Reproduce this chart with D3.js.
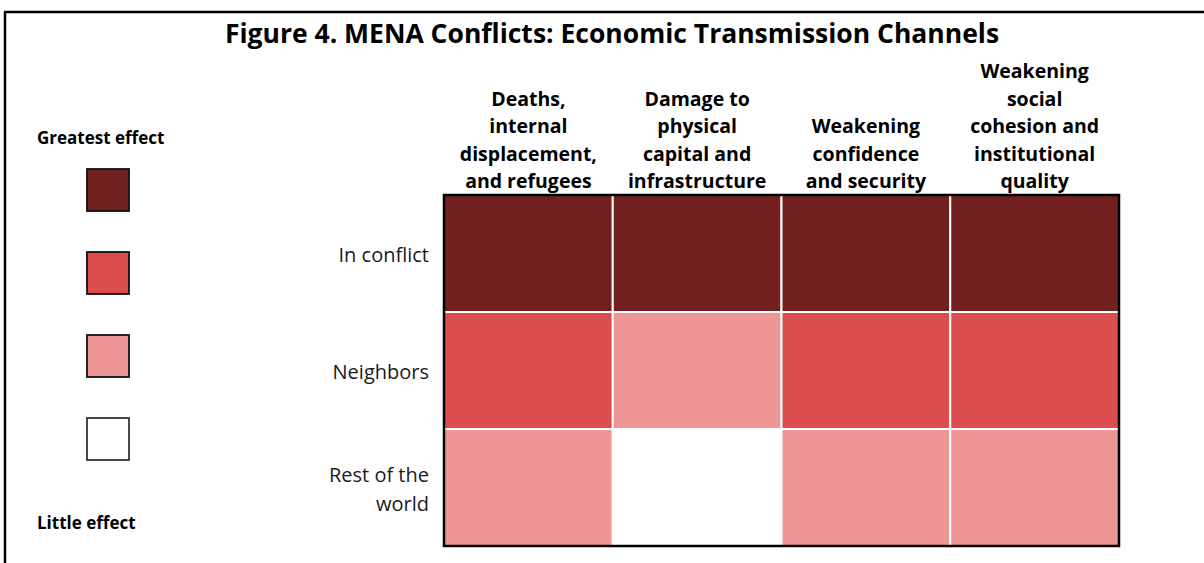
<!DOCTYPE html>
<html>
<head>
<meta charset="utf-8">
<script src="https://cdn.jsdelivr.net/npm/d3@7"></script>
<style>
  body { margin: 0; background: #fff; }
  svg { display: block; font-family: "Open Sans", "Noto Sans", sans-serif; }
</style>
</head>
<body>
<svg id="chart" width="1204" height="563"></svg>
<script>
// channels along the top, groups down the side
const channels = [
    ["Deaths,", "internal", "displacement,", "and refugees"],
    ["Damage to", "physical", "capital and", "infrastructure"],
    ["Weakening", "confidence", "and security"],
    ["Weakening", "social", "cohesion and", "institutional", "quality"]
];
const groups = [["In conflict"], ["Neighbors"], ["Rest of the", "world"]];

// effect level per group, per channel (3 = greatest, 0 = little)
const inConflict = [3, 3, 3, 3];
const neighbors = [2, 1, 2, 2];
const restOfWorld = [1, 0, 1, 1];

const levels = [3, 2, 1, 0];
const levelColors = ["#721f1f", "#dc4e4d", "#ee9695", "#ffffff"];
const legendLabels = ["Greatest effect", "Little effect"];

const title = "Figure 4. MENA Conflicts: Economic Transmission Channels";

const svg = d3.select("#chart");
const effects = [inConflict, neighbors, restOfWorld];

const color = d3.scaleOrdinal().domain(levels).range(levelColors);

const x = d3.scaleBand().domain(d3.range(channels.length)).range([444, 1119]);
const y = d3.scaleBand().domain(d3.range(groups.length)).range([195, 546]);

// frame lines
svg.append("line")
    .attr("x1", 4).attr("x2", 1204).attr("y1", 12).attr("y2", 12)
    .attr("stroke", "#000").attr("stroke-width", 2.5);
svg.append("line")
    .attr("x1", 5).attr("x2", 5).attr("y1", 11).attr("y2", 563)
    .attr("stroke", "#000").attr("stroke-width", 2.5);

svg.append("text")
    .attr("x", 612).attr("y", 43)
    .attr("text-anchor", "middle")
    .style("font-weight", "bold").style("font-size", "26.5px")
    .text(title);

// cells
let cells = [];
effects.forEach((row, r) => row.forEach((v, c) => cells.push({r: r, c: c, v: v})));

svg.append("g").selectAll("rect")
    .data(cells)
    .join("rect")
    .attr("x", d => x(d.c))
    .attr("y", d => y(d.r))
    .attr("width", x.bandwidth())
    .attr("height", y.bandwidth())
    .attr("fill", d => color(d.v))
    .attr("stroke", "#fff")
    .attr("stroke-width", 2);

svg.append("rect")
    .attr("x", x.range()[0]).attr("y", y.range()[0])
    .attr("width", x.range()[1] - x.range()[0])
    .attr("height", y.range()[1] - y.range()[0])
    .attr("fill", "none")
    .attr("stroke", "#000")
    .attr("stroke-width", 2.5);

// column headers, bottom aligned
const headerLine = 27.5;
svg.append("g").selectAll("text")
    .data(channels)
    .join("text")
    .attr("text-anchor", "middle")
    .style("font-weight", "bold").style("font-size", "19.5px")
    .each(function(lines, i){
        let t = d3.select(this);
        lines.forEach((s, k) => {
            t.append("tspan")
                .attr("x", x(i) + x.bandwidth()/2)
                .attr("y", 188 - (lines.length - 1 - k) * headerLine)
                .text(s);
        });
    });

// row labels
svg.append("g").selectAll("text")
    .data(groups)
    .join("text")
    .attr("text-anchor", "end")
    .attr("fill", "#1a1a1a")
    .style("font-size", "20px")
    .each(function(lines, i){
        let t = d3.select(this);
        let mid = y(i) + y.bandwidth()/2;
        lines.forEach((s, k) => {
            t.append("tspan")
                .attr("x", 429)
                .attr("y", mid + 8.5 + (k - (lines.length - 1)/2) * 29)
                .text(s);
        });
    });

// legend
const legendY = d3.scalePoint().domain(levels).range([169, 418]);
svg.append("g").selectAll("rect")
    .data(levels)
    .join("rect")
    .attr("x", 87)
    .attr("y", d => legendY(d))
    .attr("width", 42).attr("height", 42)
    .attr("fill", d => color(d))
    .attr("stroke", d => d === 0 ? "#333" : "#111")
    .attr("stroke-width", 1.8);

svg.append("g").selectAll("text")
    .data(legendLabels)
    .join("text")
    .attr("x", 37)
    .attr("y", (d, i) => i === 0 ? 144 : 529)
    .style("font-weight", "bold").style("font-size", "17px")
    .text(d => d);
</script>
</body>
</html>
